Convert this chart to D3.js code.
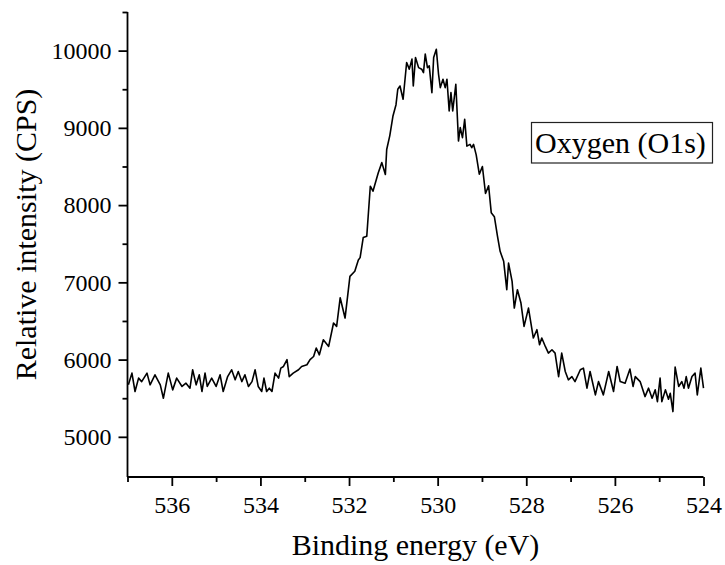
<!DOCTYPE html>
<html>
<head>
<meta charset="utf-8">
<script src="https://cdn.jsdelivr.net/npm/d3@7"></script>
<style>
  html, body { margin: 0; padding: 0; background: #fff; }
  svg { display: block; }
  text { font-family: "Liberation Serif", "Times New Roman", serif; fill: #000; }
</style>
</head>
<body>
<svg id="chart" width="725" height="565"></svg>
<script>
// Binding energy (eV)
const energy = [
  536.98,536.90,536.83,536.75,536.68,536.56,536.49,536.38,536.26,536.19,
  536.08,535.98,535.89,535.77,535.68,535.59,535.53,535.45,535.38,535.32,
  535.25,535.20,535.10,535.00,534.91,534.84,534.74,534.65,534.57,534.50,
  534.42,534.35,534.27,534.19,534.12,534.05,533.97,533.92,533.86,533.80,
  533.74,533.67,533.59,533.54,533.48,533.40,533.35,533.26,533.14,533.07,
  532.95,532.88,532.80,532.74,532.67,532.58,532.46,532.35,532.28,532.20,
  532.09,531.98,531.87,531.79,531.75,531.68,531.60,531.52,531.46,531.34,
  531.26,531.18,531.15,531.08,531.01,530.94,530.90,530.85,530.78,530.70,
  530.64,530.58,530.55,530.50,530.43,530.36,530.32,530.28,530.23,530.19,
  530.13,530.09,530.03,529.98,529.94,529.88,529.83,529.79,529.74,529.70,
  529.66,529.59,529.53,529.49,529.44,529.39,529.34,529.27,529.23,529.19,
  529.13,529.06,528.99,528.92,528.85,528.79,528.72,528.65,528.59,528.51,
  528.44,528.40,528.32,528.27,528.20,528.12,528.05,527.95,527.84,527.76,
  527.70,527.65,527.57,527.50,527.42,527.35,527.27,527.20,527.12,527.05,
  526.97,526.90,526.78,526.71,526.63,526.56,526.44,526.37,526.26,526.14,
  526.03,525.95,525.88,525.77,525.66,525.59,525.54,525.43,525.32,525.24,
  525.16,525.09,525.04,524.98,524.94,524.86,524.79,524.75,524.69,524.64,
  524.56,524.49,524.44,524.39,524.34,524.26,524.19,524.14,524.06,524.00
];
// Relative intensity (CPS)
const intensity = [
  5673,5825,5587,5760,5715,5825,5673,5803,5673,5500,
  5825,5608,5760,5652,5695,5630,5868,5673,5803,5587,
  5825,5652,5760,5652,5803,5587,5780,5868,5738,5846,
  5715,5803,5652,5715,5868,5652,5587,5760,5587,5630,
  5587,5825,5760,5890,5911,6000,5780,5825,5868,5911,
  5933,6000,6040,6150,6062,6257,6170,6474,6430,6800,
  6538,7078,7143,7290,7320,7580,7597,8245,8180,8420,
  8550,8397,8720,8900,9150,9300,9500,9542,9370,9846,
  9760,9890,9542,9910,9780,9760,9715,9955,9780,9802,
  9456,9910,10018,9694,9521,9629,9521,9629,9218,9456,
  9218,9564,8829,9003,8873,9110,8764,8786,8743,8786,
  8650,8400,8500,8150,8250,7900,7850,7600,7402,7272,
  6905,7250,7013,6667,6905,6732,6430,6667,6279,6387,
  6192,6279,6170,6084,6127,6084,5780,6084,5846,5738,
  5780,5715,5868,5890,5630,5846,5543,5715,5543,5846,
  5587,5911,5715,5695,5877,5652,5780,5715,5521,5630,
  5500,5608,5456,5760,5456,5608,5487,5564,5327,5903,
  5652,5715,5630,5780,5630,5780,5825,5543,5890,5630
];
const xMajorTicks = [536, 534, 532, 530, 528, 526, 524];
const xMinorTicks = [537, 535, 533, 531, 529, 527, 525];
const yMajorTicks = [5000, 6000, 7000, 8000, 9000, 10000];
const yMinorTicks = [5500, 6500, 7500, 8500, 9500, 10500];
const xTitle = "Binding energy (eV)";
const yTitle = "Relative intensity (CPS)";
const legendLabel = "Oxygen (O1s)";

const svg = d3.select("#chart");
const mLeft = 127.5, mRight = 703.5, mTop = 12, mBottom = 477;
const serif = '"Liberation Serif", "Times New Roman", Times, serif';

const x = d3.scaleLinear().domain([537, 524]).range([mLeft, mRight]);
const y = d3.scaleLinear().domain([4480, 10500]).range([mBottom, mTop]);

// X axis
const gx = svg.append("g").attr("transform", `translate(0,${mBottom})`);
gx.call(d3.axisBottom(x).tickValues(xMajorTicks).tickSize(9).tickPadding(5).tickFormat(d3.format("d")));
gx.append("g").call(d3.axisBottom(x).tickValues(xMinorTicks).tickSize(5).tickFormat(""))
  .call(g => g.select(".domain").remove());
gx.selectAll(".domain").attr("d", `M${mLeft},0H${mRight}`);

// Y axis
const gy = svg.append("g").attr("transform", `translate(${mLeft},0)`);
gy.call(d3.axisLeft(y).tickValues(yMajorTicks).tickSize(9).tickPadding(7).tickFormat(d3.format("d")));
gy.append("g").call(d3.axisLeft(y).tickValues(yMinorTicks).tickSize(5).tickFormat(""))
  .call(g => g.select(".domain").remove());
gy.selectAll(".domain").attr("d", `M0,${mTop}V${mBottom}`);

svg.selectAll("g").attr("font-family", serif).attr("font-size", 24);
svg.selectAll(".domain, .tick line").attr("stroke", "#000").attr("stroke-width", 1.8);
svg.selectAll(".tick text")
  .style("font-family", serif)
  .style("font-size", "24px").attr("fill", "#000");
gx.selectAll(".tick text").attr("dy", "0.9em");

// Data line
const line = d3.line().x((d, i) => x(energy[i])).y((d, i) => y(intensity[i]));
svg.append("path")
  .datum(intensity)
  .attr("fill", "none")
  .attr("stroke", "#000")
  .attr("stroke-width", 1.6)
  .attr("stroke-linejoin", "round")
  .attr("d", line);

// Titles
svg.append("text")
  .attr("x", (mLeft + mRight) / 2)
  .attr("y", 555)
  .attr("text-anchor", "middle")
  .style("font-family", serif)
  .style("font-size", "30px")
  .text(xTitle);

svg.append("text")
  .attr("transform", `translate(36,${(mTop + mBottom) / 2 - 10}) rotate(-90)`)
  .attr("text-anchor", "middle")
  .style("font-family", serif)
  .style("font-size", "30px")
  .text(yTitle);

// Legend box
const lg = svg.append("g");
lg.append("rect")
  .attr("x", 531.5).attr("y", 122.5).attr("width", 181).attr("height", 40.5)
  .attr("fill", "#fff").attr("stroke", "#222").attr("stroke-width", 1.2);
lg.append("text")
  .attr("x", 535).attr("y", 153)
  .style("font-family", serif)
  .style("font-size", "30px")
  .text(legendLabel);
</script>
</body>
</html>
